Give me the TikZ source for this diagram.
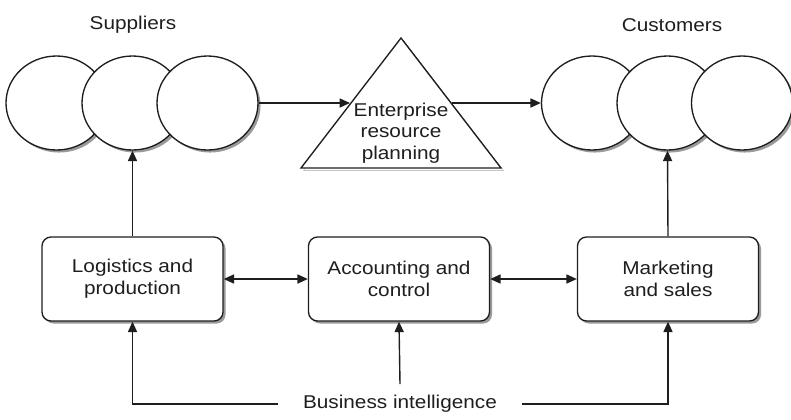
\documentclass[tikz,border=0pt]{standalone}
\usepackage{fontspec}
\setmainfont{Liberation Sans}[FakeStretch=1.12]
\usetikzlibrary{arrows.meta,shapes.geometric,shadows}
\definecolor{ink}{HTML}{1E1E1E}
\definecolor{shade}{HTML}{9A9A9A}
\begin{document}
\begin{tikzpicture}[x=0.75pt,y=-0.75pt,
  font=\fontsize{13.9pt}{16.5pt}\selectfont,
  every node/.style={text=ink},
  lin/.style={draw=ink,line width=1.05pt},
  arr/.style={lin,-{Triangle[length=7.8pt,width=6.8pt]}},
  darr/.style={lin,{Triangle[length=7.8pt,width=6.8pt]}-{Triangle[length=7.8pt,width=6.8pt]}},
  myshadow/.style={drop shadow={shadow xshift=1.9pt,shadow yshift=-1.9pt,fill=shade,opacity=1}},
  party/.style={ellipse,draw=ink,line width=1pt,fill=white,minimum width=75.75pt,minimum height=70.5pt,inner sep=0pt,myshadow},
  unitbox/.style={rectangle,rounded corners=6.75pt,draw=ink,line width=1pt,fill=white,minimum width=135.75pt,minimum height=63pt,align=center,myshadow}
]
\useasboundingbox (0,0) rectangle (791,419);

% labels
\node (sup) at (133,25) {Suppliers};
\node (cus) at (672,25) {Customers};

% supplier ellipses
\node[party] (s1) at (56.5,103) {};
\node[party] (s2) at (132.5,103) {};
\node[party] (s3) at (207.5,103) {};

% customer ellipses
\node[party] (c1) at (592,103) {};
\node[party] (c2) at (667.5,103) {};
\node[party] (c3) at (742,103) {};

% ERP triangle
\coordinate (ta) at (401,38);
\coordinate (tb) at (301,168);
\coordinate (tc) at (501,168);
\fill[shade] ([shift={(2.5,2.5)}]ta) -- ([shift={(2.5,2.5)}]tb) -- ([shift={(2.5,2.5)}]tc) -- cycle;
\filldraw[fill=white,draw=ink,line width=1pt,line join=miter] (ta) -- (tb) -- (tc) -- cycle;
\node[align=center,font=\fontsize{13.9pt}{16.1pt}\selectfont] (erp) at (401,133) {Enterprise\\resource\\planning};
\coordinate (tl) at (350,103);
\coordinate (tr) at (452,103);

% boxes
\node[unitbox] (log) at (132.5,279) {Logistics and\\production};
\node[unitbox] (acc) at (399,279) {Accounting and\\control};
\node[unitbox] (mkt) at (668,279) {Marketing\\and sales};

% business intelligence
\node[inner xsep=18.75pt] (bi) at (400,404) {Business intelligence};
\coordinate (bitop) at (400,384);

% connectors
\draw[arr] (s3.east) -- (tl);
\draw[arr] (tr) -- (c1.west);
\draw[arr] (log.north) -- (s2.south);
\draw[arr] (mkt.north) -- (c2.south);
\draw[darr] (log.east) -- (acc.west);
\draw[darr] (acc.east) -- (mkt.west);
\draw[arr] (bitop) -- (acc.south);
\draw[arr] (bi.west) -| (log.south);
\draw[arr] (bi.east) -| (mkt.south);
\end{tikzpicture}
\end{document}
